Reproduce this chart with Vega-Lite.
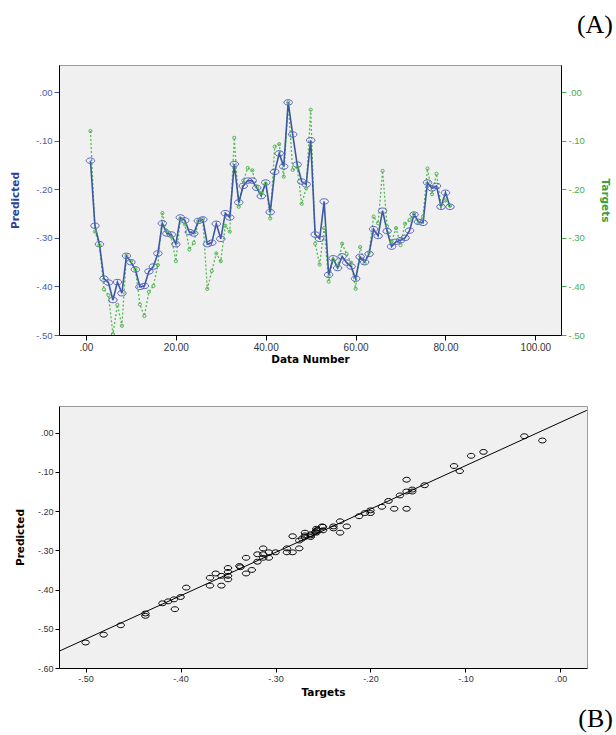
{
  "$schema": "https://vega.github.io/schema/vega-lite/v6.json",
  "padding": {"left": 10, "top": 11, "right": 0, "bottom": 2},
  "background": "white",
  "spacing": 40,
  "config": {
    "view": {"fill": "#f0f0f0", "stroke": "#9a9a9a", "strokeWidth": 1},
    "font": "Liberation Sans",
    "axis": {"grid": false, "domainColor": "black", "domainWidth": 1, "labelFont": "Liberation Sans", "titleFont": "DejaVu Sans", "labelFlush": false, "labelOverlap": false}
  },
  "datasets": {
    "series": [
      {"n": 1, "p": -0.141, "t": -0.080}, {"n": 2, "p": -0.275, "t": -0.287}, {"n": 3, "p": -0.313, "t": -0.315},
      {"n": 4, "p": -0.384, "t": -0.406}, {"n": 5, "p": -0.392, "t": -0.418}, {"n": 6, "p": -0.428, "t": -0.498},
      {"n": 7, "p": -0.391, "t": -0.438}, {"n": 8, "p": -0.414, "t": -0.481}, {"n": 9, "p": -0.337, "t": -0.337},
      {"n": 10, "p": -0.350, "t": -0.348}, {"n": 11, "p": -0.365, "t": -0.365}, {"n": 12, "p": -0.401, "t": -0.437},
      {"n": 13, "p": -0.399, "t": -0.461}, {"n": 14, "p": -0.369, "t": -0.411}, {"n": 15, "p": -0.359, "t": -0.399},
      {"n": 16, "p": -0.332, "t": -0.356}, {"n": 17, "p": -0.270, "t": -0.249}, {"n": 18, "p": -0.291, "t": -0.286},
      {"n": 19, "p": -0.293, "t": -0.298}, {"n": 20, "p": -0.313, "t": -0.348}, {"n": 21, "p": -0.258, "t": -0.260},
      {"n": 22, "p": -0.264, "t": -0.272}, {"n": 23, "p": -0.288, "t": -0.324}, {"n": 24, "p": -0.291, "t": -0.310},
      {"n": 25, "p": -0.265, "t": -0.265}, {"n": 26, "p": -0.262, "t": -0.261}, {"n": 27, "p": -0.313, "t": -0.405},
      {"n": 28, "p": -0.310, "t": -0.368}, {"n": 29, "p": -0.271, "t": -0.332}, {"n": 30, "p": -0.302, "t": -0.348},
      {"n": 31, "p": -0.249, "t": -0.275}, {"n": 32, "p": -0.258, "t": -0.287}, {"n": 33, "p": -0.148, "t": -0.094},
      {"n": 34, "p": -0.227, "t": -0.236}, {"n": 35, "p": -0.193, "t": -0.182}, {"n": 36, "p": -0.182, "t": -0.156},
      {"n": 37, "p": -0.182, "t": -0.161}, {"n": 38, "p": -0.197, "t": -0.195}, {"n": 39, "p": -0.214, "t": -0.208},
      {"n": 40, "p": -0.186, "t": -0.188}, {"n": 41, "p": -0.247, "t": -0.260}, {"n": 42, "p": -0.164, "t": -0.112},
      {"n": 43, "p": -0.126, "t": -0.107}, {"n": 44, "p": -0.153, "t": -0.174}, {"n": 45, "p": -0.021, "t": -0.021},
      {"n": 46, "p": -0.087, "t": -0.160}, {"n": 47, "p": -0.149, "t": -0.155}, {"n": 48, "p": -0.184, "t": -0.230},
      {"n": 49, "p": -0.190, "t": -0.198}, {"n": 50, "p": -0.099, "t": -0.036}, {"n": 51, "p": -0.293, "t": -0.312},
      {"n": 52, "p": -0.302, "t": -0.355}, {"n": 53, "p": -0.225, "t": -0.280}, {"n": 54, "p": -0.376, "t": -0.390},
      {"n": 55, "p": -0.342, "t": -0.345}, {"n": 56, "p": -0.362, "t": -0.359}, {"n": 57, "p": -0.338, "t": -0.312},
      {"n": 58, "p": -0.351, "t": -0.333}, {"n": 59, "p": -0.359, "t": -0.351}, {"n": 60, "p": -0.384, "t": -0.405},
      {"n": 61, "p": -0.339, "t": -0.319}, {"n": 62, "p": -0.350, "t": -0.352}, {"n": 63, "p": -0.333, "t": -0.330},
      {"n": 64, "p": -0.282, "t": -0.256}, {"n": 65, "p": -0.296, "t": -0.270}, {"n": 66, "p": -0.244, "t": -0.162},
      {"n": 67, "p": -0.286, "t": -0.276}, {"n": 68, "p": -0.318, "t": -0.308}, {"n": 69, "p": -0.308, "t": -0.280},
      {"n": 70, "p": -0.305, "t": -0.315}, {"n": 71, "p": -0.300, "t": -0.271}, {"n": 72, "p": -0.285, "t": -0.263},
      {"n": 73, "p": -0.252, "t": -0.251}, {"n": 74, "p": -0.267, "t": -0.269}, {"n": 75, "p": -0.269, "t": -0.256},
      {"n": 76, "p": -0.186, "t": -0.157}, {"n": 77, "p": -0.198, "t": -0.210}, {"n": 78, "p": -0.193, "t": -0.168},
      {"n": 79, "p": -0.236, "t": -0.232}, {"n": 80, "p": -0.207, "t": -0.223}, {"n": 81, "p": -0.236, "t": -0.234}
    ],
    "scatter": [
      {"t": -0.500, "p": -0.535}, {"t": -0.481, "p": -0.515}, {"t": -0.463, "p": -0.491}, {"t": -0.437, "p": -0.461},
      {"t": -0.437, "p": -0.467}, {"t": -0.419, "p": -0.435}, {"t": -0.413, "p": -0.430}, {"t": -0.407, "p": -0.425},
      {"t": -0.406, "p": -0.450}, {"t": -0.400, "p": -0.419}, {"t": -0.394, "p": -0.395}, {"t": -0.369, "p": -0.370},
      {"t": -0.369, "p": -0.390}, {"t": -0.363, "p": -0.359}, {"t": -0.357, "p": -0.365}, {"t": -0.357, "p": -0.390},
      {"t": -0.350, "p": -0.345}, {"t": -0.350, "p": -0.355}, {"t": -0.350, "p": -0.374}, {"t": -0.350, "p": -0.365},
      {"t": -0.338, "p": -0.340}, {"t": -0.337, "p": -0.343}, {"t": -0.331, "p": -0.319}, {"t": -0.331, "p": -0.359},
      {"t": -0.325, "p": -0.350}, {"t": -0.319, "p": -0.310}, {"t": -0.319, "p": -0.329}, {"t": -0.313, "p": -0.295},
      {"t": -0.313, "p": -0.310}, {"t": -0.313, "p": -0.319}, {"t": -0.307, "p": -0.305}, {"t": -0.307, "p": -0.319},
      {"t": -0.300, "p": -0.305}, {"t": -0.288, "p": -0.295}, {"t": -0.288, "p": -0.305}, {"t": -0.282, "p": -0.264},
      {"t": -0.282, "p": -0.305}, {"t": -0.275, "p": -0.295}, {"t": -0.275, "p": -0.275}, {"t": -0.269, "p": -0.255},
      {"t": -0.269, "p": -0.266}, {"t": -0.263, "p": -0.259}, {"t": -0.263, "p": -0.266}, {"t": -0.257, "p": -0.245},
      {"t": -0.257, "p": -0.250}, {"t": -0.257, "p": -0.255}, {"t": -0.251, "p": -0.239}, {"t": -0.272, "p": -0.270},
      {"t": -0.269, "p": -0.262}, {"t": -0.263, "p": -0.262}, {"t": -0.258, "p": -0.253}, {"t": -0.256, "p": -0.248},
      {"t": -0.250, "p": -0.240}, {"t": -0.250, "p": -0.249}, {"t": -0.239, "p": -0.239}, {"t": -0.239, "p": -0.244},
      {"t": -0.232, "p": -0.226}, {"t": -0.232, "p": -0.255}, {"t": -0.225, "p": -0.239}, {"t": -0.212, "p": -0.213},
      {"t": -0.206, "p": -0.205}, {"t": -0.200, "p": -0.198}, {"t": -0.200, "p": -0.205}, {"t": -0.188, "p": -0.189},
      {"t": -0.181, "p": -0.174}, {"t": -0.175, "p": -0.194}, {"t": -0.169, "p": -0.160}, {"t": -0.162, "p": -0.150},
      {"t": -0.162, "p": -0.120}, {"t": -0.162, "p": -0.194}, {"t": -0.156, "p": -0.145}, {"t": -0.156, "p": -0.150},
      {"t": -0.143, "p": -0.134}, {"t": -0.112, "p": -0.085}, {"t": -0.106, "p": -0.098}, {"t": -0.094, "p": -0.059},
      {"t": -0.081, "p": -0.049}, {"t": -0.038, "p": -0.009}, {"t": -0.019, "p": -0.020}
    ],
    "fit": [
      {"t": -0.5277, "p": -0.557}, {"t": 0.0278, "p": 0.057}
    ]
  },
  "vconcat": [
    {
      "width": 502,
      "height": 270,
      "title": {"text": "(A)", "font": "Liberation Serif", "fontSize": 26, "fontWeight": "normal", "color": "black", "anchor": "end", "frame": "group", "dx": 52, "offset": 27},
      "data": {"name": "series"},
      "encoding": {
        "x": {
          "field": "n", "type": "quantitative",
          "scale": {"domain": [-6, 105.7], "nice": false, "zero": false},
          "axis": {
            "values": [0, 20, 40, 60, 80, 100],
            "labelExpr": "datum.value == 0 ? '.00' : format(datum.value, '.2f')",
            "title": "Data Number", "titleFontSize": 10.5, "titleFontWeight": "bold", "titleColor": "black",
            "labelFontSize": 10, "labelColor": "#333333", "tickColor": "black", "tickSize": 5,
            "labelPadding": 2, "titlePadding": 2
          }
        }
      },
      "layer": [
        {
          "mark": {"type": "line", "color": "#55b955", "strokeWidth": 1.3, "strokeDash": [2, 2], "clip": true},
          "encoding": {
            "y": {
              "field": "t", "type": "quantitative",
              "scale": {"domain": [-0.5, 0.056], "nice": false, "zero": false},
              "axis": {
                "orient": "right",
                "values": [0, -0.1, -0.2, -0.3, -0.4, -0.5],
                "labelExpr": "replace(replace(format(datum.value, '.2f'), '0.', '.'), '\u2212', '-')",
                "title": "Targets", "titleColor": "#33a043", "titleFontSize": 10.5, "titleFontWeight": "bold",
                "labelColor": "#44ad52", "labelFontSize": 9.5, "tickColor": "#44ad52", "tickSize": 5,
                "labelPadding": 2, "titlePadding": 15
              }
            }
          }
        },
        {
          "mark": {"type": "line", "color": "#3b58a0", "strokeWidth": 1.6, "clip": true},
          "encoding": {
            "y": {
              "field": "p", "type": "quantitative",
              "scale": {"domain": [-0.5, 0.056], "nice": false, "zero": false},
              "axis": {
                "orient": "left",
                "values": [0, -0.1, -0.2, -0.3, -0.4, -0.5],
                "labelExpr": "replace(replace(format(datum.value, '.2f'), '0.', '.'), '\u2212', '-')",
                "title": "Predicted", "titleColor": "#2f3f9a", "titleFontSize": 10.5, "titleFontWeight": "bold",
                "labelColor": "#4a5ab0", "labelFontSize": 9.5, "tickColor": "#4a5ab0", "tickSize": 5,
                "labelPadding": 2, "titlePadding": 15
              }
            }
          }
        },
        {
          "mark": {"type": "point", "shape": "M-1,0A1,0.64,0,1,0,1,0A1,0.64,0,1,0,-1,0Z", "size": 72, "filled": false, "color": "#5562c4", "strokeWidth": 1, "opacity": 1, "clip": true},
          "encoding": {
            "y": {"field": "p", "type": "quantitative", "scale": {"domain": [-0.5, 0.056], "nice": false, "zero": false}, "axis": null}
          }
        },
        {
          "mark": {"type": "point", "shape": "circle", "size": 10, "filled": false, "color": "#4fb84f", "strokeWidth": 1, "opacity": 1, "clip": true},
          "encoding": {
            "y": {"field": "t", "type": "quantitative", "scale": {"domain": [-0.5, 0.056], "nice": false, "zero": false}, "axis": null}
          }
        }
      ],
      "resolve": {"scale": {"y": "independent"}}
    },
    {
      "width": 528,
      "height": 262,
      "title": {"text": "(B)", "orient": "bottom", "font": "Liberation Serif", "fontSize": 26, "fontWeight": "normal", "color": "black", "anchor": "end", "frame": "group", "dx": 26, "offset": 8},
      "encoding": {
        "x": {
          "field": "t", "type": "quantitative",
          "scale": {"domain": [-0.528, 0.028], "nice": false, "zero": false},
          "axis": {
            "values": [-0.5, -0.4, -0.3, -0.2, -0.1, 0],
            "labelExpr": "replace(replace(format(datum.value, '.2f'), '0.', '.'), '\u2212', '-')",
            "title": "Targets", "titleFontSize": 10.5, "titleFontWeight": "bold", "titleColor": "black",
            "labelFontSize": 9, "labelColor": "#333333", "tickColor": "black", "tickSize": 4,
            "labelPadding": 2, "titlePadding": 4
          }
        },
        "y": {
          "field": "p", "type": "quantitative",
          "scale": {"domain": [-0.6, 0.068], "nice": false, "zero": false},
          "axis": {
            "values": [0, -0.1, -0.2, -0.3, -0.4, -0.5, -0.6],
            "labelExpr": "replace(replace(format(datum.value, '.2f'), '0.', '.'), '\u2212', '-')",
            "title": "Predicted", "titleFontSize": 10.5, "titleFontWeight": "bold", "titleColor": "black",
            "labelFontSize": 9, "labelColor": "#333333", "tickColor": "black", "tickSize": 4,
            "labelPadding": 2, "titlePadding": 12
          }
        }
      },
      "layer": [
        {
          "data": {"name": "fit"},
          "mark": {"type": "line", "color": "black", "strokeWidth": 1, "clip": true}
        },
        {
          "data": {"name": "scatter"},
          "mark": {"type": "point", "shape": "M-1,0A1,0.65,0,1,0,1,0A1,0.65,0,1,0,-1,0Z", "size": 56, "filled": false, "color": "black", "strokeWidth": 1, "opacity": 1, "clip": true}
        }
      ]
    }
  ]
}
